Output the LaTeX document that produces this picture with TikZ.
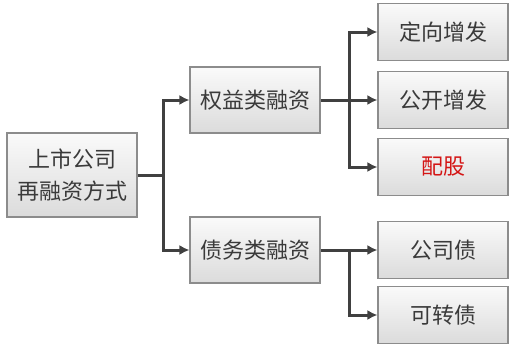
\documentclass[tikz,border=0pt]{standalone}
\usepackage{fontspec}
\usepackage{xcolor}
\setmainfont{Noto Sans CJK SC}
\usetikzlibrary{arrows.meta,positioning,calc}
\definecolor{fintext}{HTML}{3A3A3A}
\definecolor{finline}{HTML}{404040}
\definecolor{finborder}{HTML}{8C8C8C}
\definecolor{finred}{HTML}{D41515}
\tikzset{
  finarr/.style={-{Latex[length=10pt,width=10pt]}, line width=3pt, draw=finline},
  finline/.style={line width=3pt, draw=finline},
  finnode/.style={draw=finborder, line width=1.1pt, top color=gray!4, bottom color=gray!28,
    align=center, inner sep=0pt, text=fintext},
}

\begin{document}
\begin{tikzpicture}[
  x=1pt, y=-1pt,
  font=\fontsize{22}{32}\selectfont,
  rt/.style={finnode, minimum width=130pt, minimum height=84pt},
  md/.style={finnode, minimum width=130pt, minimum height=66pt},
  lf/.style={finnode, minimum width=130pt, minimum height=57pt},
]
  \useasboundingbox (0,0) rectangle (519,348);
  \node[rt] (root) at (72,175) {上市公司\\再融资方式};
  \node[md] (eq) at (255,100) {权益类融资};
  \node[md] (debt) at (255,250) {债务类融资};
  \node[lf] (pp) at (443,32) {定向增发};
  \node[lf] (po) at (443,100) {公开增发};
  \node[lf, text=finred] (ri) at (443,167) {配股};
  \node[lf] (cb) at (443,250) {公司债};
  \node[lf] (cv) at (443,315) {可转债};
  % branch points
  \coordinate (lb) at (163,175);
  \coordinate (eb) at (349,100);
  \coordinate (db) at (349,250);
  \draw[finline] (root.east) -- (lb);
  \draw[finarr] (lb) |- (eq.west);
  \draw[finarr] (lb) |- (debt.west);
  \draw[finline] (eq.east) -- (eb);
  \draw[finarr] (eb) |- (pp.west);
  \draw[finarr] (eb) -- (po.west);
  \draw[finarr] (eb) |- (ri.west);
  \draw[finline] (debt.east) -- (db);
  \draw[finarr] (db) -- (cb.west);
  \draw[finarr] (db) |- (cv.west);
\end{tikzpicture}
\end{document}
